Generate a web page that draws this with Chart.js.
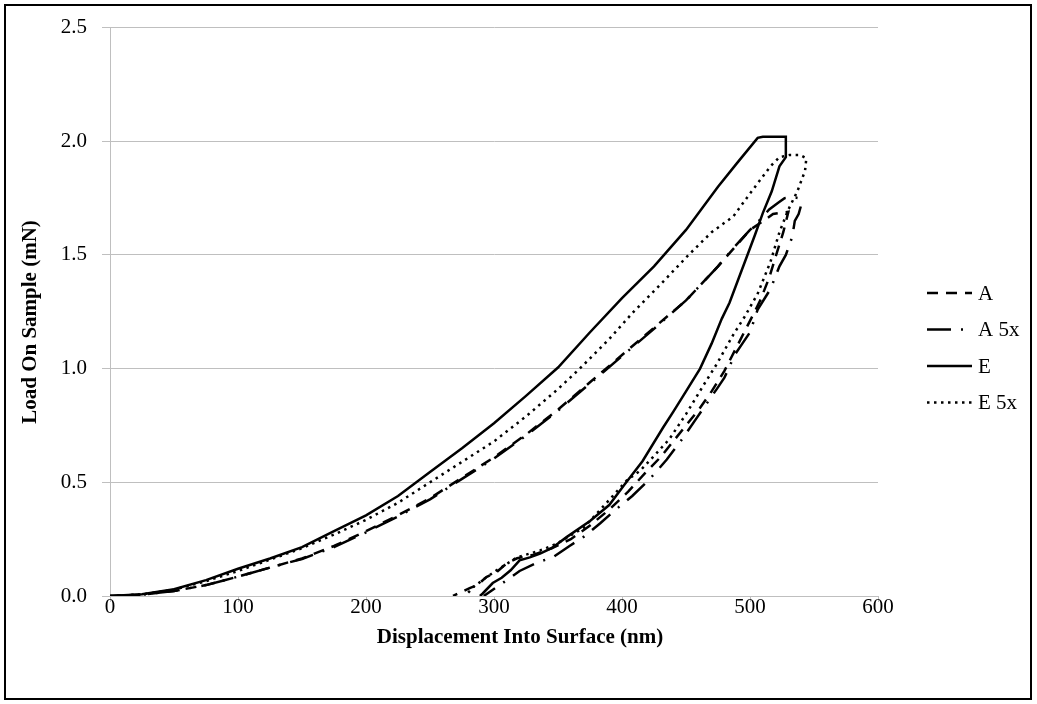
<!DOCTYPE html>
<html>
<head>
<meta charset="utf-8">
<script src="https://cdn.jsdelivr.net/npm/chart.js@4/dist/chart.umd.min.js"></script>
<style>
  html, body { margin: 0; padding: 0; background: #fff; }
  canvas { display: block; }
</style>
</head>
<body>
<canvas id="chart" width="1037" height="704"></canvas>
<script>
// series names
var seriesNames = ["A", "A 5x", "E", "E 5x"];

// A - displacement (nm) / load (mN), loading then unloading
var aDisp = [0,25,50,75,100,125,150,175,200,225,250,275,300,325,350,375,400,425,450,475,500,513,518,530,
             526,521,515,508,500,490,480,470,460,450,440,430,418,405,390,375,360,345,330,318,310,302,294,287,281,268];
var aLoad = [0,0.006,0.022,0.048,0.085,0.125,0.165,0.22,0.285,0.355,0.43,0.52,0.61,0.71,0.82,0.94,1.06,1.18,1.30,1.45,1.61,1.66,1.68,1.69,
             1.60,1.51,1.40,1.30,1.21,1.10,0.99,0.90,0.82,0.75,0.68,0.61,0.54,0.46,0.38,0.31,0.25,0.21,0.18,0.166,0.144,0.105,0.083,0.048,0.035,0];

// A 5x
var a5Disp = [0,25,50,75,100,125,150,175,200,225,250,275,300,325,350,375,400,425,450,475,487,500,507,515,522,527,533,538,540,
              538,535,533,528,523,516,506,500,494,488,480,474,469,458,447,435,421,408,393,383,370,359,346,335,320,305,292];
var a5Load = [0,0.006,0.022,0.048,0.085,0.125,0.163,0.215,0.28,0.35,0.425,0.515,0.605,0.705,0.815,0.935,1.055,1.175,1.30,1.45,1.53,1.61,1.65,1.70,1.73,1.75,1.755,1.75,1.72,
              1.68,1.65,1.58,1.50,1.45,1.35,1.26,1.16,1.11,1.06,0.96,0.91,0.87,0.78,0.69,0.60,0.51,0.44,0.37,0.32,0.26,0.22,0.17,0.15,0.11,0.05,0];

// E
var eDisp = [0,25,50,75,100,125,150,175,200,225,250,275,300,325,350,375,400,425,450,475,490,506,510,528,
             528,523,517,510,504,498,490,484,478,470,461,450,440,432,416,402,390,375,357,345,336,328,320,313,306,299,291,289];
var eLoad = [0,0.008,0.03,0.07,0.12,0.165,0.215,0.285,0.355,0.44,0.545,0.65,0.76,0.88,1.005,1.16,1.31,1.45,1.61,1.80,1.905,2.015,2.02,2.02,
             1.93,1.89,1.78,1.684,1.59,1.50,1.38,1.29,1.22,1.11,1.0,0.90,0.81,0.74,0.593,0.49,0.40,0.33,0.26,0.21,0.186,0.17,0.157,0.113,0.08,0.057,0.01,0];

// E 5x
var e5Disp = [0,25,50,75,100,125,150,175,200,225,250,275,300,325,350,367,390,409,430,452,470,487,500,508,516,523,531,539,544,
              543,537,530,523,516,506,496,487,474,464,450,437,424,414,404,388,370,349,336,318,302,291,284,279,278];
var e5Load = [0,0.007,0.028,0.065,0.11,0.16,0.21,0.27,0.335,0.41,0.5,0.59,0.68,0.79,0.91,1.0,1.13,1.25,1.37,1.5,1.6,1.67,1.77,1.83,1.89,1.93,1.94,1.94,1.925,
              1.87,1.78,1.70,1.60,1.47,1.33,1.23,1.15,1.02,0.93,0.80,0.69,0.61,0.55,0.51,0.41,0.30,0.23,0.20,0.17,0.113,0.07,0.04,0.01,0];

var xTitle = "Displacement Into Surface (nm)";
var yTitle = "Load On Sample (mN)";

function pts(xs, ys) {
    var out = [];
    for (var i = 0; i < xs.length; i++) {
        out.push({ x: xs[i], y: ys[i] });
    }
    return out;
}

var dashes = [[11, 8], [24, 10, 2, 10], [], [2.5, 4.5]];
var serif = "'Liberation Serif', 'Times New Roman', serif";

// legend, axis titles and frame drawn by hand
var extras = {
    id: 'extras',
    afterDraw: function (chart) {
        var ctx = chart.ctx;
        ctx.save();
        ctx.strokeStyle = '#000';
        ctx.lineWidth = 2;
        ctx.strokeRect(5, 5, 1026, 694);

        ctx.fillStyle = '#000';
        ctx.font = 'bold 21px ' + serif;
        ctx.textAlign = 'center';
        ctx.textBaseline = 'middle';
        ctx.fillText(xTitle, 520, 638);
        ctx.save();
        ctx.translate(31, 322);
        ctx.rotate(-Math.PI / 2);
        ctx.fillText(yTitle, 0, 0);
        ctx.restore();

        ctx.font = '21px ' + serif;
        ctx.textAlign = 'left';
        chart.data.datasets.forEach(function (ds, i) {
            var y = 293 + i * 36.5;
            ctx.beginPath();
            ctx.setLineDash(ds.borderDash);
            ctx.lineWidth = 2.5;
            ctx.moveTo(927, y);
            ctx.lineTo(972, y);
            ctx.stroke();
            ctx.setLineDash([]);
            ctx.fillText(ds.label, 978, y + 1);
        });
        ctx.restore();
    }
};

new Chart(document.getElementById('chart'), {
    type: 'scatter',
    data: {
        datasets: [
            { label: seriesNames[0], data: pts(aDisp, aLoad) },
            { label: seriesNames[1], data: pts(a5Disp, a5Load) },
            { label: seriesNames[2], data: pts(eDisp, eLoad) },
            { label: seriesNames[3], data: pts(e5Disp, e5Load) }
        ].map(function (ds, i) {
            ds.showLine = true;
            ds.borderColor = '#000';
            ds.backgroundColor = '#000';
            ds.borderWidth = 2.5;
            ds.borderDash = dashes[i];
            ds.pointRadius = 0;
            ds.tension = 0;
            return ds;
        })
    },
    options: {
        responsive: false,
        animation: false,
        layout: { padding: { left: 0, right: 159, top: 23, bottom: 0 } },
        plugins: {
            legend: { display: false },
            tooltip: { enabled: false }
        },
        scales: {
            x: {
                type: 'linear',
                min: 0,
                max: 600,
                afterFit: function (s) { s.height = 108; },
                ticks: { stepSize: 100, color: '#000', padding: -7, font: { family: serif, size: 21 } },
                grid: { drawOnChartArea: false, drawTicks: true, tickLength: 6, color: '#bfbfbf' },
                border: { color: '#bfbfbf', width: 1 }
            },
            y: {
                type: 'linear',
                min: 0,
                max: 2.5,
                afterFit: function (s) { s.width = 110; },
                ticks: {
                    stepSize: 0.5, color: '#000', padding: 15,
                    font: { family: serif, size: 21 },
                    callback: function (v) { return v.toFixed(1); }
                },
                grid: { color: '#bfbfbf', lineWidth: 1, tickLength: 8 },
                border: { color: '#bfbfbf', width: 1 }
            }
        }
    },
    plugins: [extras]
});
</script>
</body>
</html>
